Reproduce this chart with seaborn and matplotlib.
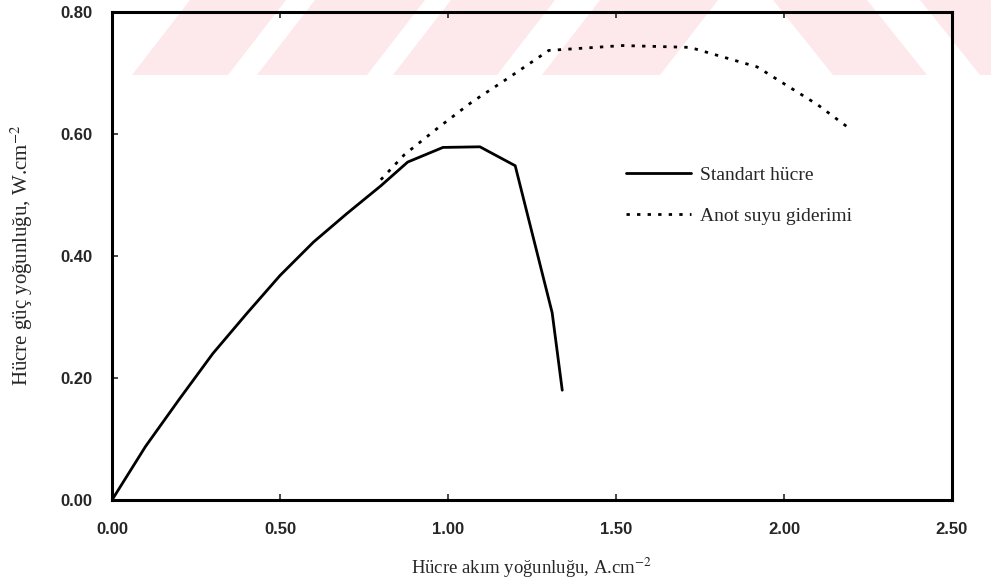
import numpy as np
import pandas as pd
import matplotlib
matplotlib.use("Agg")
import matplotlib.pyplot as plt
from matplotlib.patches import Polygon
import seaborn as sns

# ---- data ----
std_x = [0.0, 0.10, 0.20, 0.30, 0.40, 0.50, 0.60, 0.70, 0.80, 0.88, 0.985, 1.095, 1.20, 1.31, 1.34]
std_y = [0.0, 0.088, 0.165, 0.240, 0.305, 0.368, 0.423, 0.470, 0.515, 0.554, 0.578, 0.579, 0.548, 0.307, 0.180]

anot_x = [0.80, 0.87, 0.97, 1.07, 1.18, 1.30, 1.52, 1.72, 1.92, 2.10, 2.19]
anot_y = [0.525, 0.566, 0.610, 0.652, 0.692, 0.737, 0.745, 0.742, 0.710, 0.648, 0.611]

series_names = ["Standart hücre", "Anot suyu giderimi"]
x_ticks = [0.0, 0.5, 1.0, 1.5, 2.0, 2.5]
y_ticks = [0.0, 0.2, 0.4, 0.6, 0.8]
x_label = "Hücre akım yoğunluğu, A.cm$^{-2}$"
y_label = "Hücre güç yoğunluğu, W.cm$^{-2}$"

df_std = pd.DataFrame({"x": std_x, "y": std_y})
df_anot = pd.DataFrame({"x": anot_x, "y": anot_y})

sns.set_style("white")
plt.rcParams["font.family"] = ["Liberation Serif", "DejaVu Serif"]
plt.rcParams["mathtext.fontset"] = "stix"

W, H = 991, 583
fig = plt.figure(figsize=(W / 100, H / 100), dpi=100)
ax = fig.add_axes([112 / W, 1 - 500 / H, 840 / W, 488 / H])
ax.set_facecolor("none")

# faint watermark stripes (decoration)
def px(xp, yp):
    return (xp / W, 1 - yp / H)

pink = "#fde8ec"
band_top, band_bot = 0, 75
for x0, x1 in [(132, 228), (257, 367), (393, 497), (542, 660)]:
    poly = [px(x0, band_bot), px(x1, band_bot), px(x1 + 58, band_top), px(x0 + 58, band_top)]
    fig.patches.append(Polygon(poly, closed=True, transform=fig.transFigure,
                               facecolor=pink, edgecolor="none", zorder=-5))
for x0, x1 in [(773, 867), (920, 990)]:
    poly = [px(x0, band_top), px(x1, band_top), px(x1 + 60, band_bot), px(x0 + 60, band_bot)]
    fig.patches.append(Polygon(poly, closed=True, transform=fig.transFigure,
                               facecolor=pink, edgecolor="none", zorder=-5))

sns.lineplot(data=df_std, x="x", y="y", ax=ax, color="black", linewidth=2.0,
             sort=False, label=series_names[0])
sns.lineplot(data=df_anot, x="x", y="y", ax=ax, color="black", linewidth=2.0,
             linestyle=(0, (1.2, 2.6)), sort=False, label=series_names[1])

ax.set_xlim(0, 2.5)
ax.set_ylim(0, 0.8)
ax.set_xticks(x_ticks)
ax.set_yticks(y_ticks)
ax.set_xticklabels([f"{v:.2f}" for v in x_ticks], fontfamily="Liberation Sans",
                   fontweight="bold", fontsize=12)
ax.set_yticklabels([f"{v:.2f}" for v in y_ticks], fontfamily="Liberation Sans",
                   fontweight="bold", fontsize=12)
ax.tick_params(axis="x", direction="in", length=4, width=1.2, pad=16, top=True, bottom=True)
ax.tick_params(axis="y", direction="in", length=4, width=1.2, pad=14, left=True, right=False)

for s in ax.spines.values():
    s.set_linewidth(2.2)
    s.set_color("black")

ax.set_xlabel(x_label, fontsize=13.5)
ax.set_ylabel(y_label, fontsize=15)
ax.xaxis.label.set_va("center")
ax.yaxis.label.set_va("center")
ax.xaxis.set_label_coords(0.5, (500 - 568) / 488)
ax.yaxis.set_label_coords((22 - 112) / 840, 0.5)

leg = ax.legend(loc="upper left", bbox_to_anchor=(0.5915, 0.72), frameon=False,
                fontsize=14, handlelength=3.3, handletextpad=0.5, labelspacing=1.2)

fig.savefig("out.png", dpi=100)
